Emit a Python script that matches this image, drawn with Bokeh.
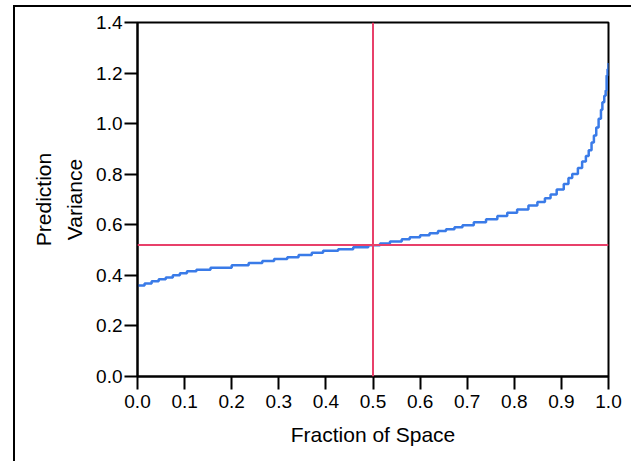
from bokeh.plotting import figure
from bokeh.embed import file_html
from bokeh.resources import INLINE
from bokeh.models import FixedTicker, Span, CustomJSTickFormatter, LinearAxis

fraction = [0.000, 0.015, 0.030, 0.045, 0.060, 0.075, 0.090, 0.105, 0.125, 0.155,
            0.200, 0.236, 0.265, 0.290, 0.318, 0.342, 0.370, 0.394, 0.426, 0.458,
            0.490, 0.515, 0.536, 0.561, 0.578, 0.600, 0.620, 0.638, 0.655, 0.673,
            0.690, 0.714, 0.740, 0.764, 0.785, 0.806, 0.830, 0.849, 0.865, 0.877,
            0.890, 0.905, 0.915, 0.923, 0.935, 0.944, 0.952, 0.958, 0.964, 0.969,
            0.974, 0.979, 0.984, 0.987, 0.991, 0.994, 0.996, 0.998, 1.000]
variance = [0.360, 0.368, 0.377, 0.385, 0.392, 0.400, 0.408, 0.416, 0.422, 0.430,
            0.440, 0.449, 0.457, 0.465, 0.472, 0.481, 0.489, 0.497, 0.503, 0.511,
            0.519, 0.526, 0.534, 0.543, 0.551, 0.559, 0.567, 0.575, 0.582, 0.590,
            0.598, 0.610, 0.622, 0.635, 0.648, 0.660, 0.676, 0.690, 0.705, 0.720,
            0.740, 0.761, 0.785, 0.801, 0.825, 0.850, 0.872, 0.895, 0.925, 0.953,
            0.985, 1.019, 1.055, 1.085, 1.110, 1.131, 1.190, 1.215, 1.240]
x_ticks = [0.0, 0.1, 0.2, 0.3, 0.4, 0.5, 0.6, 0.7, 0.8, 0.9, 1.0]
y_ticks = [0.0, 0.2, 0.4, 0.6, 0.8, 1.0, 1.2, 1.4]
ref_fraction = 0.5
ref_variance = 0.52
y_label_lines = ["Prediction", "Variance"]
x_label = "Fraction of Space"

FONT = "Liberation Sans"

p = figure(width=618, height=456, x_range=(0, 1), y_range=(0, 1.4),
           output_backend="svg", toolbar_location=None,
           min_border_left=122, min_border_right=25, min_border_top=15, min_border_bottom=87)
p.styles = {"position": "relative", "left": "13px", "top": "5px",
            "border-left": "2px solid black", "border-top": "2px solid black"}

p.xgrid.visible = False
p.ygrid.visible = False
p.outline_line_color = "black"
p.outline_line_width = 2
p.outline_line_alpha = 1

fmt = CustomJSTickFormatter(code="return tick.toFixed(1);")
for ax, ticks in ((p.xaxis[0], x_ticks), (p.yaxis[0], y_ticks)):
    ax.ticker = FixedTicker(ticks=ticks)
    ax.formatter = fmt
    ax.minor_tick_line_color = None
    ax.major_tick_in = 0
    ax.major_tick_out = 13
    ax.major_tick_line_width = 2
    ax.major_tick_line_color = "black"
    ax.axis_line_width = 2
    ax.axis_line_color = "black"
    ax.major_label_text_font = FONT
    ax.major_label_text_font_size = "19px"
    ax.major_label_text_color = "black"
    ax.axis_label_text_font = FONT
    ax.axis_label_text_font_size = "21px"
    ax.axis_label_text_font_style = "normal"
    ax.axis_label_text_color = "black"

p.xaxis[0].axis_label = x_label
p.yaxis[0].axis_label = y_label_lines[1]
p.xaxis[0].major_label_standoff = 5
p.yaxis[0].major_label_standoff = 2
p.xaxis[0].axis_label_standoff = 12
p.yaxis[0].axis_label_standoff = 7

# first line of the y label, as a bare axis further left
extra = LinearAxis(ticker=FixedTicker(ticks=[]), axis_line_color=None,
                   major_tick_line_color=None, minor_tick_line_color=None,
                   major_tick_out=0, major_tick_in=0,
                   axis_label=y_label_lines[0], axis_label_standoff=6,
                   axis_label_text_font=FONT, axis_label_text_font_size="21px",
                   axis_label_text_font_style="normal", axis_label_text_color="black")
p.add_layout(extra, "left")

p.add_layout(Span(location=ref_fraction, dimension="height", line_color="#e8406a", line_width=2))
p.add_layout(Span(location=ref_variance, dimension="width", line_color="#e8406a", line_width=2))

p.step(fraction, variance, mode="after", line_color="#3a7be8", line_width=2.5)

open("out.html", "w").write(file_html(p, INLINE))
